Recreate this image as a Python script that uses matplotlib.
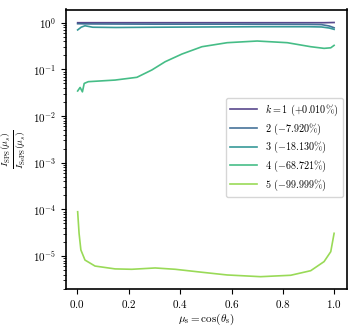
import matplotlib
matplotlib.use('Agg')
import matplotlib.pyplot as plt
import numpy as np

plt.rcParams['font.family'] = 'serif'
plt.rcParams['font.serif'] = ['cmr10']
plt.rcParams['mathtext.fontset'] = 'cm'
plt.rcParams['axes.formatter.use_mathtext'] = True

# values
mu_1 = [0.0015, 0.1, 0.3, 0.5, 0.7, 0.9, 0.96, 0.999]
r_1 = [1.0, 1.0, 1.0, 1.0, 1.0, 1.0, 1.0, 1.01]

mu_2 = [0.0015, 0.05, 0.3, 0.6, 0.9, 0.95, 0.98, 0.999]
r_2 = [0.95, 0.94, 0.93, 0.93, 0.92, 0.91, 0.85, 0.78]

mu_3 = [0.0015, 0.015, 0.03, 0.06, 0.15, 0.3, 0.5, 0.7, 0.9, 0.95, 0.98, 0.999]
r_3 = [0.70, 0.80, 0.86, 0.80, 0.79, 0.80, 0.81, 0.82, 0.82, 0.81, 0.77, 0.72]

mu_4 = [0.0015, 0.011, 0.02, 0.027, 0.043, 0.147, 0.232, 0.29, 0.342, 0.407,
        0.485, 0.583, 0.70, 0.817, 0.908, 0.96, 0.986, 0.999]
r_4 = [0.0344, 0.041, 0.033, 0.050, 0.0545, 0.059, 0.0676, 0.097, 0.146, 0.213,
       0.306, 0.373, 0.405, 0.373, 0.306, 0.282, 0.29, 0.327]

mu_5 = [0.0015, 0.007, 0.014, 0.03, 0.069, 0.147, 0.212, 0.303, 0.381, 0.485,
        0.583, 0.713, 0.83, 0.908, 0.96, 0.986, 0.999]
r_5 = [8.9e-5, 3.07e-5, 1.35e-5, 8.2e-6, 6.1e-6, 5.3e-6, 5.2e-6, 5.55e-6, 5.2e-6, 4.49e-6,
       3.93e-6, 3.61e-6, 3.87e-6, 4.85e-6, 7.6e-6, 1.24e-5, 3.07e-5]

labels = [r'$k=1$ $(+0.010\%)$', r'$2$ $(-7.920\%)$', r'$3$ $(-18.130\%)$',
          r'$4$ $(-68.721\%)$', r'$5$ $(-99.999\%)$']
yticks = [1e-5, 1e-4, 1e-3, 1e-2, 1e-1, 1e0]

xs = [mu_1, mu_2, mu_3, mu_4, mu_5]
ys = [r_1, r_2, r_3, r_4, r_5]
colors = plt.cm.viridis(np.linspace(0.15, 0.83, 5))

fig = plt.figure(figsize=(3.57, 3.33), dpi=100)
ax = fig.add_axes([65.7 / 357, 1 - 288.7 / 333, 281 / 357, 279.2 / 333])

for x, y, c, lab in zip(xs, ys, colors, labels):
    ax.plot(x, y, color=c, lw=1.2, alpha=0.9, label=lab)

ax.set_yscale('log')
ax.set_xlim(-0.045, 1.048)
ax.set_ylim(10 ** -5.70, 10 ** 0.283)
ax.set_yticks(yticks)
ax.set_xticks([0.0, 0.2, 0.4, 0.6, 0.8, 1.0])
ax.set_xlabel(r'$\mu_{\rm s} = \cos(\theta_{\rm s})$', fontsize=8, labelpad=1)
ax.set_ylabel(r'$\frac{I_{\rm SPS}(\mu_s)}{I_{\rm SePS}(\mu_s)}$', fontsize=10)
ax.tick_params(labelsize=8)
for s in ax.spines.values():
    s.set_linewidth(1.2)

ax.legend(loc='center right', bbox_to_anchor=(1.0, 0.505), fontsize=7.3, handlelength=2.7,
          labelspacing=0.35, borderaxespad=0.4)

plt.savefig('out.png', dpi=100)
plt.close()
